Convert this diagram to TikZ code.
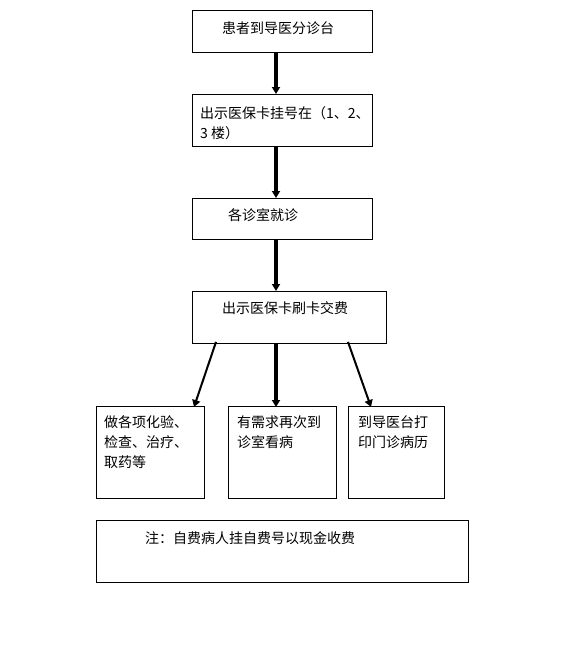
\documentclass[tikz,border=0pt]{standalone}
\usepackage{fontspec}
\setmainfont{Noto Sans CJK SC}
\usetikzlibrary{arrows.meta,calc}
\begin{document}
\begin{tikzpicture}[x=1pt,y=-1pt,
  box/.style={draw,line width=0.9pt,anchor=north west,inner sep=0pt},
  txt/.style={anchor=north west,inner sep=0pt,align=left,font=\fontsize{14}{20}\selectfont},
  thickarrow/.style={line width=3.2pt,-{Triangle[length=7pt,width=8pt]}},
  slantarrow/.style={line width=2pt,-{Triangle[length=7pt,width=8pt]}}]
\useasboundingbox (0,0) rectangle (588,645);
\node[box,minimum width=180pt,minimum height=42pt] (b1) at (192,10) {};
\node[box,minimum width=180pt,minimum height=52pt] (b2) at (192,94) {};
\node[box,minimum width=180pt,minimum height=41pt] (b3) at (192,198) {};
\node[box,minimum width=194pt,minimum height=52pt] (b4) at (192,291) {};
\node[box,minimum width=108pt,minimum height=92pt] (b5) at (96,406) {};
\node[box,minimum width=108pt,minimum height=92pt] (b6) at (228,406) {};
\node[box,minimum width=96pt,minimum height=92pt] (b7) at (348,406) {};
\node[box,minimum width=372pt,minimum height=62pt] (b8) at (96,520) {};
\node[txt] (t1) at (222,21) {患者到导医分诊台};
\node[txt] (t2) at (200,106.5) {出示医保卡挂号在（1、2、\\3 楼）};
\node[txt] (t3) at (228,208.5) {各诊室就诊};
\node[txt] (t4) at (222,301.5) {出示医保卡刷卡交费};
\node[txt] (t5) at (104,415.5) {做各项化验、\\检查、治疗、\\取药等};
\node[txt] (t6) at (237,415.5) {有需求再次到\\诊室看病};
\node[txt] (t7) at (358,415.5) {到导医台打\\印门诊病历};
\node[txt] (t8) at (145,531.5) {注：自费病人挂自费号以现金收费};
\draw[thickarrow] ([xshift=84pt]b1.south west) -- ([xshift=84pt]b2.north west);
\draw[thickarrow] ([xshift=84pt]b2.south west) -- ([xshift=84pt]b3.north west);
\draw[thickarrow] ([xshift=84pt]b3.south west) -- ([xshift=84pt]b4.north west);
\draw[slantarrow] ([xshift=24pt,yshift=2pt]b4.south west) -- ([xshift=98pt,yshift=-1pt]b5.north west);
\draw[thickarrow] ([xshift=84pt]b4.south west) -- ([xshift=48pt,yshift=-1pt]b6.north west);
\draw[slantarrow] ([xshift=156pt,yshift=2pt]b4.south west) -- ([xshift=23pt,yshift=-1pt]b7.north west);
\end{tikzpicture}
\end{document}
